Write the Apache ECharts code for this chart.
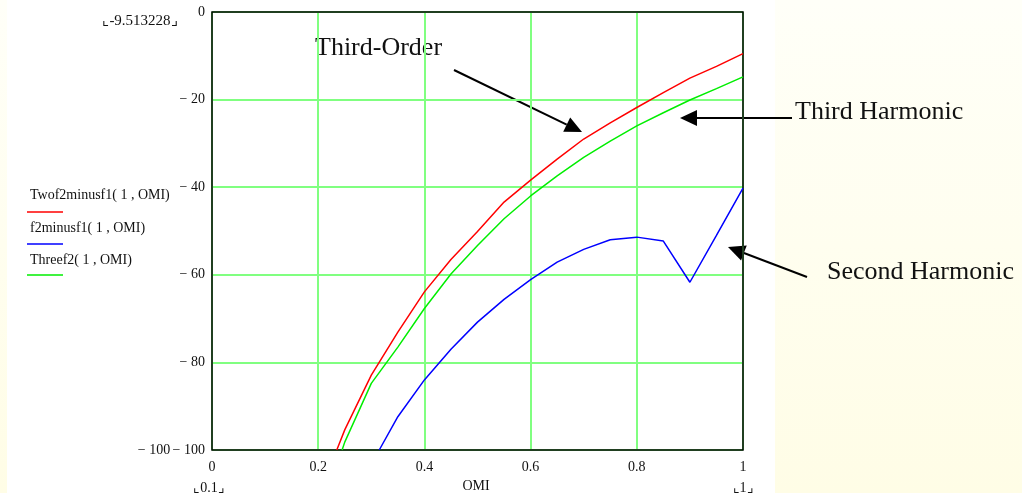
<!DOCTYPE html>
<html>
<head>
<meta charset="utf-8">
<script src="https://cdn.jsdelivr.net/npm/echarts@6/dist/echarts.min.js"></script>
<style>
  html, body { margin: 0; padding: 0; }
  body { width: 1022px; height: 493px; background: linear-gradient(to bottom, #fffff8 0%, #fffde6 100%); }
  #chart { width: 1022px; height: 493px; }
</style>
</head>
<body>
<div id="chart"></div>
<script>
// OMI sample points (step 0.05)
const omi = [0.25, 0.30, 0.35, 0.40, 0.45, 0.50, 0.55, 0.60, 0.65, 0.70, 0.75, 0.80, 0.85, 0.90, 0.95, 1.00];

// dB levels of each product versus OMI
const twof2minusf1 = [-95.4, -82.9, -73.1, -63.9, -56.5, -50.1, -43.4, -38.4, -33.6, -29.0, -25.3, -21.8, -18.4, -15.1, -12.4, -9.5];
const f2minusf1    = [null, null, -92.4, -84.0, -77.0, -70.8, -65.6, -61.1, -57.1, -54.2, -52.0, -51.4, -52.3, -61.7, -51.0, -40.2];
const threef2      = [-98.2, -84.8, -76.5, -67.7, -59.8, -53.3, -47.2, -42.0, -37.4, -33.2, -29.5, -26.0, -23.0, -20.1, -17.5, -14.8];

// OMI where each curve rises out of the -100 floor
const floorOmi = { twof2minusf1: 0.235, f2minusf1: 0.315, threef2: 0.245 };
const floorDb = -100;

// axis limits and tick labels
const xMin = 0, xMax = 1, xStep = 0.2;
const yMin = -100, yMax = 0, yStep = 20;
const yLimitTop = '-9.513228';
const yLimitBottom = -100;
const xLimitLeft = '0.1';
const xLimitRight = '1';
const xTitle = 'OMI';

const legendNames = ['Twof2minusf1( 1 , OMI)', 'f2minusf1( 1 , OMI)', 'Threef2( 1 , OMI)'];
const colors = ['#ff0000', '#0000ff', '#00ee00'];

function pairs(name, vals) {
  const out = [[floorOmi[name], floorDb]];
  omi.forEach((x, i) => { if (vals[i] !== null && x > floorOmi[name]) out.push([x, vals[i]]); });
  return out;
}

const serif = '"Liberation Serif", "DejaVu Serif", serif';
const fmtNum = v => (v < 0 ? '\u2212 ' + Math.abs(v) : String(v));

const chart = echarts.init(document.getElementById('chart'));

const txt = (x, y, text, size, align, extra) => Object.assign({
  type: 'text', x: x, y: y, silent: true,
  style: { text: text, fill: '#111', font: size + 'px ' + serif, align: align || 'left', verticalAlign: 'middle' }
}, extra || {});
const seg = (x1, y1, x2, y2, color, w) => ({
  type: 'line', silent: true,
  shape: { x1: x1, y1: y1, x2: x2, y2: y2 },
  style: { stroke: color, lineWidth: w || 1.5 }
});
// arrow with a filled triangular head at (x2, y2)
function arrow(x1, y1, x2, y2) {
  const a = Math.atan2(y2 - y1, x2 - x1);
  const L = 17, W = 8;
  const bx = x2 - L * Math.cos(a), by = y2 - L * Math.sin(a);
  const nx = -Math.sin(a) * W, ny = Math.cos(a) * W;
  return [
    seg(x1, y1, bx, by, '#000', 2),
    { type: 'polygon', silent: true, shape: { points: [[x2, y2], [bx + nx, by + ny], [bx - nx, by - ny]] }, style: { fill: '#000' } }
  ];
}
const bracketed = (x, y, text, size, align) => txt(x, y, '\u231E' + text + '\u231F', size, align);

const graphics = [
  // white plot sheet over the page
  { type: 'rect', z: -10, silent: true, shape: { x: 7, y: 0, width: 768, height: 493 }, style: { fill: '#ffffff' } },
  bracketed(140, 21, yLimitTop, 15, 'center'),
  txt(154, 450, fmtNum(yLimitBottom), 14, 'center'),
  bracketed(209, 488, xLimitLeft, 14, 'center'),
  bracketed(743, 488, xLimitRight, 14, 'center'),
  txt(476, 486, xTitle, 14, 'center'),
  // legend
  txt(30, 195, legendNames[0], 14), seg(27, 212, 63, 212, colors[0]),
  txt(30, 228, legendNames[1], 14), seg(27, 244, 63, 244, colors[1]),
  txt(30, 260, legendNames[2], 14), seg(27, 275, 63, 275, colors[2]),
  // annotations
  txt(315, 48, 'Third-Order', 26),
  txt(795, 112, 'Third Harmonic', 26),
  txt(827, 272, 'Second Harmonic', 26)
].concat(arrow(454, 70, 582, 132), arrow(792, 118, 680, 118), arrow(807, 277, 728, 247));

chart.setOption({
  animation: false,
  backgroundColor: 'transparent',
  grid: { left: 212, right: 279, top: 12, bottom: 43, show: true, borderColor: '#000', borderWidth: 1.5, z: 3 },
  xAxis: {
    type: 'value', min: xMin, max: xMax, interval: xStep,
    axisLine: { show: false }, axisTick: { show: false },
    axisLabel: { color: '#111', fontFamily: serif, fontSize: 14, margin: 10, formatter: v => String(+v.toFixed(1)) },
    splitLine: { show: true, lineStyle: { color: '#80ff80', width: 2 } }
  },
  yAxis: {
    type: 'value', min: yMin, max: yMax, interval: yStep,
    axisLine: { show: false }, axisTick: { show: false },
    axisLabel: { color: '#111', fontFamily: serif, fontSize: 14, margin: 7, formatter: v => fmtNum(v) },
    splitLine: { show: true, lineStyle: { color: '#80ff80', width: 2 } }
  },
  series: [
    { name: legendNames[0], type: 'line', data: pairs('twof2minusf1', twof2minusf1), showSymbol: false, lineStyle: { color: colors[0], width: 1.5 }, z: 5 },
    { name: legendNames[1], type: 'line', data: pairs('f2minusf1', f2minusf1), showSymbol: false, lineStyle: { color: colors[1], width: 1.5 }, z: 5 },
    { name: legendNames[2], type: 'line', data: pairs('threef2', threef2), showSymbol: false, lineStyle: { color: colors[2], width: 1.5 }, z: 5 }
  ],
  graphic: graphics
});
</script>
</body>
</html>
